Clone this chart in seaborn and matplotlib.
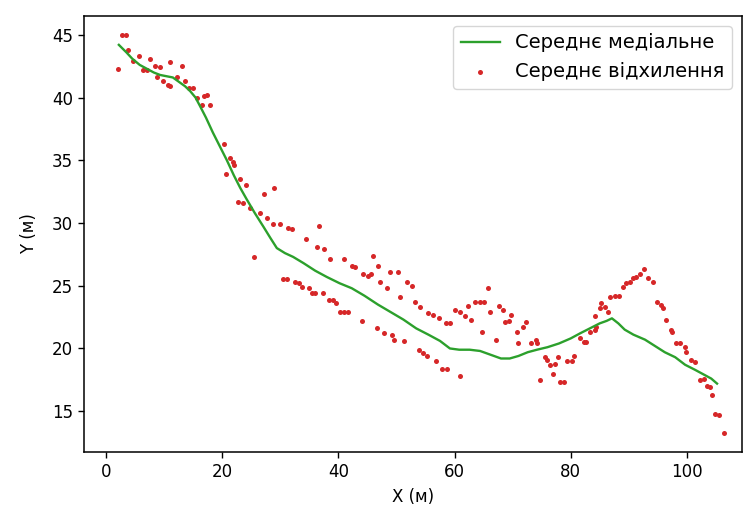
import matplotlib
matplotlib.use("Agg")
import matplotlib.pyplot as plt
import seaborn as sns

# ковзна медіана (лінія)
median_x = [2.2, 3.5, 4.5, 5.8, 7.0, 8.2, 9.3, 10.4, 11.5, 12.7,
            13.6, 14.5, 15.4, 16.2, 17.2, 18.4, 19.6, 20.8, 22.0, 23.1,
            24.2, 25.6, 27.1, 28.3, 29.4, 30.8, 32.2, 34.0, 36.0, 38.0,
            40.2, 42.3, 44.5, 46.8, 49.0, 51.2, 53.4, 55.5, 57.5, 59.2,
            60.8, 62.6, 64.4, 66.2, 68.0, 69.5, 71.0, 72.6, 74.2, 76.0,
            78.0, 80.0, 81.6, 83.3, 85.0, 86.2, 87.1, 88.2, 89.3, 90.8,
            92.8, 94.5, 96.2, 98.0, 99.7, 101.4, 103.0, 104.2, 105.2]
median_y = [44.2, 43.6, 43.1, 42.6, 42.3, 42.0, 41.8, 41.7, 41.6, 41.2,
            40.9, 40.5, 40.0, 39.3, 38.4, 37.2, 36.1, 35.0, 33.8, 32.8,
            31.9, 30.8, 29.7, 28.8, 28.0, 27.6, 27.3, 26.8, 26.2, 25.7,
            25.2, 24.8, 24.2, 23.5, 22.9, 22.3, 21.6, 21.1, 20.6, 20.0,
            19.9, 19.9, 19.8, 19.5, 19.2, 19.2, 19.4, 19.7, 19.9, 20.1,
            20.4, 20.8, 21.2, 21.6, 22.0, 22.2, 22.4, 22.0, 21.5, 21.1,
            20.7, 20.2, 19.7, 19.3, 18.7, 18.3, 17.9, 17.6, 17.2]

# точки відхилення
dev_x = [2.1, 2.7, 3.4, 3.8, 4.7, 5.6, 6.4, 7.0, 7.5, 8.4, 9.3, 8.7, 9.8,
         10.6, 11.0, 11.0, 12.2, 13.0, 13.6, 14.3, 14.9, 15.6, 16.5, 16.9,
         17.3, 17.9,
         20.3, 21.3, 21.8, 22.0, 20.7, 23.1, 24.1, 27.2, 28.9, 22.8, 23.6,
         24.8, 26.5, 27.7, 28.7, 29.9, 31.4, 32.0, 34.5, 36.3, 37.5, 36.7,
         25.5,
         38.6, 41.0, 42.3, 42.9, 44.3, 45.1, 45.7, 45.9, 46.9, 47.2, 48.3,
         48.9, 50.3, 50.6, 51.8, 52.6, 53.2, 54.0, 55.5, 56.3, 57.4, 58.6,
         59.2, 60.1, 60.9, 61.8, 62.4, 62.8, 63.5, 64.4, 65.1, 65.8, 66.1,
         64.8, 67.2, 67.7, 68.3, 68.7, 69.4, 69.7, 70.7, 70.9, 71.8, 72.3,
         73.1, 74.0, 74.2, 74.7, 75.6, 75.9, 76.5, 77.3, 76.9, 77.9, 78.1,
         78.8, 79.3, 80.3, 80.6, 81.6, 82.3, 82.6, 83.3, 84.2, 84.4, 84.2,
         85.0, 85.3, 85.9, 86.5, 86.7, 87.6, 88.3, 89.0, 89.6, 90.2, 90.8,
         91.3, 91.9, 92.6, 93.3, 94.1, 94.8, 95.5, 95.9, 96.4, 97.2, 97.4,
         98.2, 98.9, 99.7, 99.8, 100.8, 101.4, 102.3, 102.9, 103.4, 104.0,
         104.4, 104.8, 105.6, 106.4,
         30.5, 31.2, 32.5, 33.3, 33.7, 35.0, 35.4, 36.0, 37.3, 38.3, 39.1,
         39.6, 40.3, 41.0, 41.7, 44.1, 46.6, 47.9, 49.2, 49.6, 51.3, 53.8,
         54.5, 55.2, 56.8, 57.8, 58.7, 60.9]
dev_y = [42.3, 45.0, 45.0, 43.8, 42.9, 43.3, 42.2, 42.2, 43.1, 42.5, 42.4,
         41.6, 41.3, 41.0, 40.9, 42.8, 41.6, 42.5, 41.3, 40.8, 40.8, 40.0,
         39.4, 40.1, 40.2, 39.4,
         36.3, 35.2, 34.9, 34.6, 33.9, 33.5, 33.0, 32.3, 32.8, 31.7, 31.6,
         31.2, 30.8, 30.4, 29.9, 29.9, 29.6, 29.5, 28.7, 28.1, 27.9, 29.8,
         27.3,
         27.1, 27.1, 26.6, 26.5, 25.9, 25.8, 25.9, 27.4, 26.6, 25.3, 24.8,
         26.1, 26.1, 24.1, 25.3, 25.0, 23.7, 23.3, 22.8, 22.7, 22.4, 22.0,
         22.0, 23.1, 22.9, 22.6, 23.4, 22.3, 23.7, 23.7, 23.7, 24.8, 22.9,
         21.3, 20.7, 23.4, 23.1, 22.1, 22.2, 22.7, 21.3, 20.4, 21.7, 22.1,
         20.4, 20.7, 20.4, 17.5, 19.3, 19.1, 18.7, 18.8, 18.0, 19.3, 17.3,
         17.3, 19.0, 19.0, 19.4, 20.8, 20.5, 20.5, 21.3, 21.5, 21.7, 22.6,
         23.2, 23.6, 23.3, 22.9, 24.1, 24.2, 24.2, 24.9, 25.2, 25.3, 25.6,
         25.7, 25.9, 26.3, 25.6, 25.3, 23.7, 23.5, 23.2, 22.3, 21.5, 21.3,
         20.4, 20.4, 20.1, 19.7, 19.1, 18.9, 17.5, 17.6, 17.0, 16.9,
         16.3, 14.8, 14.7, 13.3,
         25.5, 25.5, 25.3, 25.2, 24.9, 24.8, 24.4, 24.4, 24.4, 23.9, 23.9,
         23.6, 22.9, 22.9, 22.9, 22.2, 21.6, 21.2, 21.1, 20.7, 20.6, 19.9,
         19.6, 19.4, 19.0, 18.4, 18.4, 17.8]

fig = plt.figure(figsize=(7.48, 5.16), dpi=100)
ax = fig.add_axes([0.1123, 0.1246, 0.8797, 0.8444])

sns.lineplot(x=median_x, y=median_y, ax=ax, color='tab:green', linewidth=1.7,
             sort=False, label='Середнє медіальне')
sns.scatterplot(x=dev_x, y=dev_y, ax=ax, color='tab:red', s=13, linewidth=0,
                label='Середнє відхилення')

ax.set_xlim(-3.8, 109.5)
ax.set_ylim(11.77, 46.5)
ax.set_xlabel('X (м)', fontsize=12, labelpad=5)
ax.set_ylabel('Y (м)', fontsize=12, labelpad=10)
ax.tick_params(labelsize=12, length=4.6, width=1.0)
for sp in ax.spines.values():
    sp.set_linewidth(1.1)
ax.legend(loc='upper right', fontsize=14)

fig.savefig('out.png', dpi=100)
